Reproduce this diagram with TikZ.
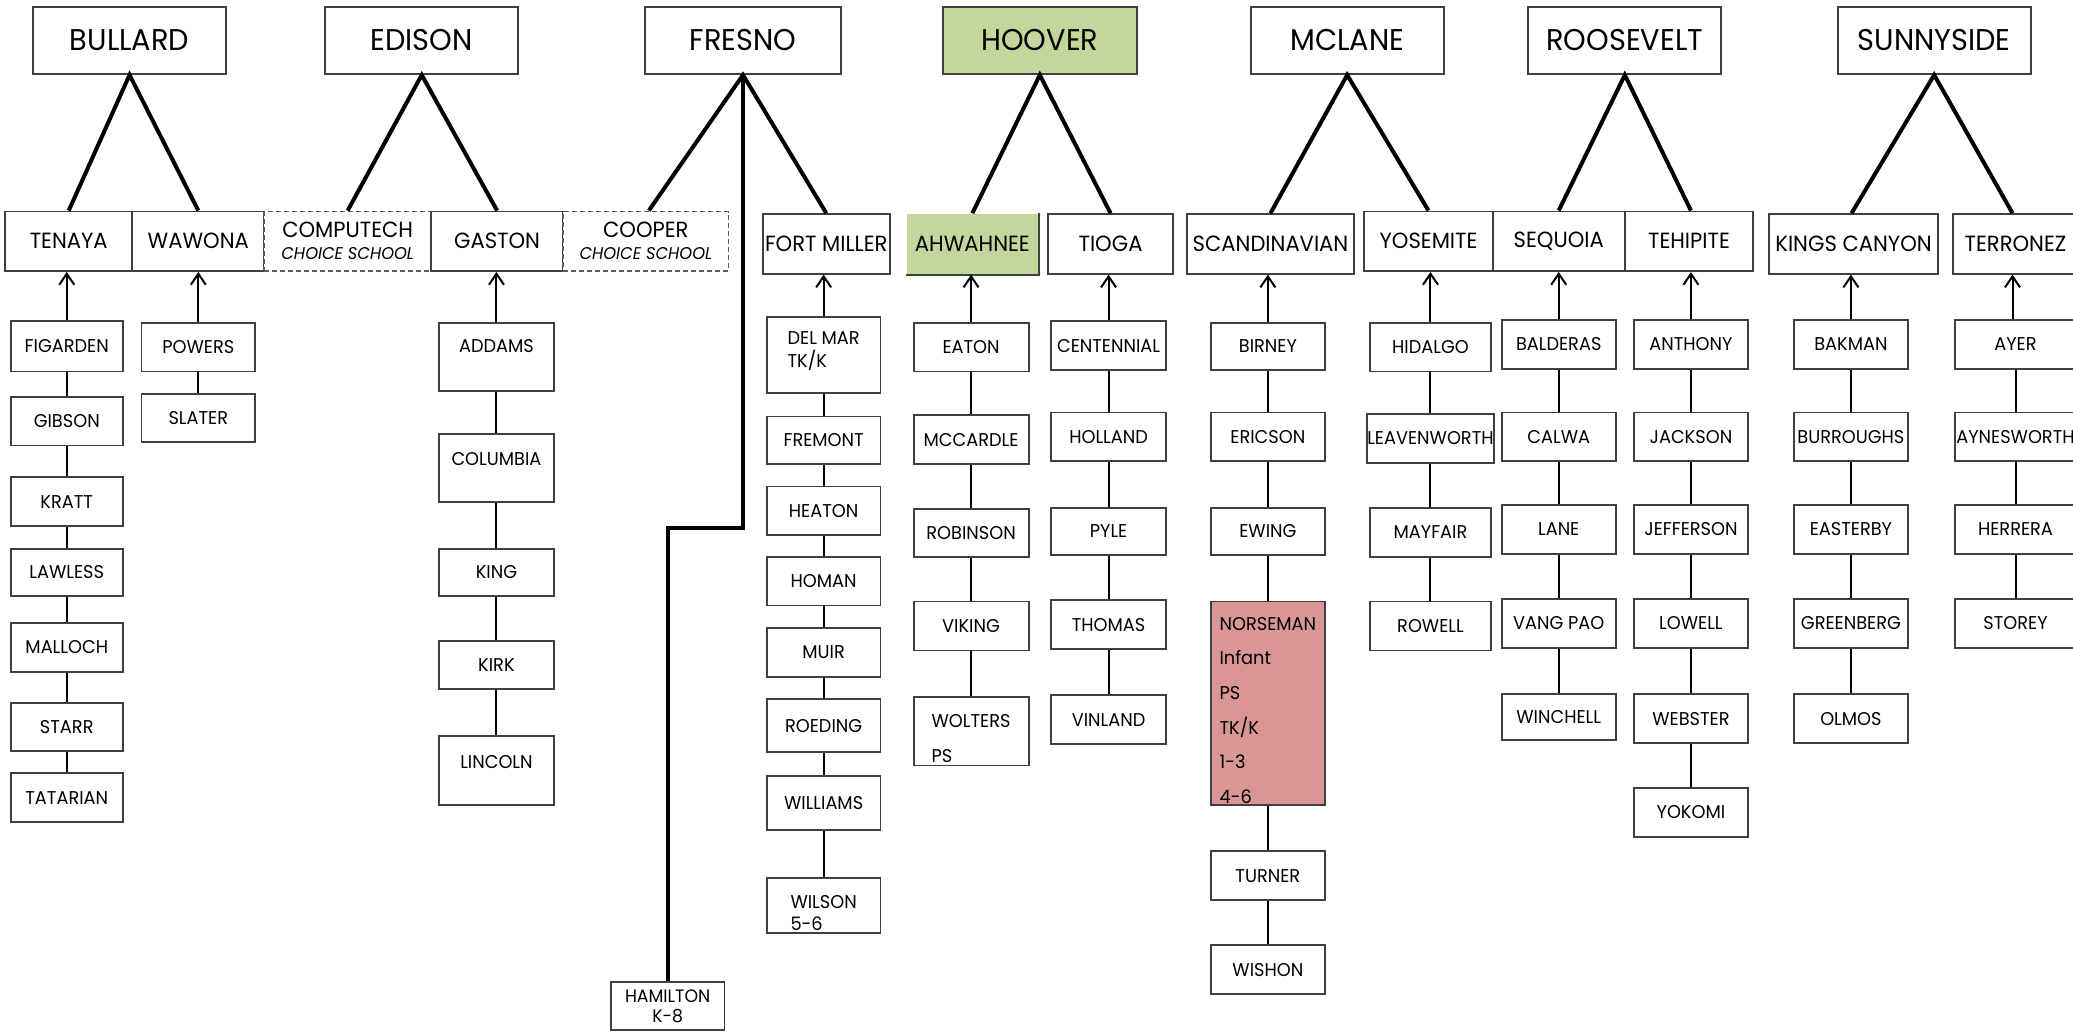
\documentclass[tikz,border=0pt]{standalone}
\usepackage{fontspec}
\setmainfont{Poppins}[FakeStretch=0.96]
\usetikzlibrary{arrows.meta}
\definecolor{bd}{HTML}{404040}
\definecolor{hgreen}{HTML}{C3D69B}
\definecolor{npink}{HTML}{D99694}
\newcommand\fsTop{\fontsize{30}{36}\selectfont}
\newcommand\fsMid{\fontsize{22}{26}\selectfont}
\newcommand\fsKid{\fontsize{18.5}{22.5}\selectfont}
\newcommand\fsSm{\fontsize{17}{19}\selectfont}
\newcommand\bx[7][]{\node[box,#1,minimum width={(#5-#3)*1.322pt},minimum height={(#6-#4)*1.322pt}] (#2) at ({(#3+#5)/2},{(#4+#6)/2}) {#7};}
\tikzset{
  box/.style={draw=bd, line width=1.9pt, fill=white, inner sep=0pt, font=\fsKid, text=black},
  top/.style={font=\fsTop},
  mid/.style={font=\fsMid},
  dbox/.style={dash pattern=on 5pt off 3pt, draw=bd!85},
  tup/.style={text depth=#1},
  trunk/.style={line width=4pt, black},
  link/.style={line width=2pt, black},
  arr/.style={line width=2pt, black, -{Straight Barb[length=11pt,width=15pt]}},
}
\begin{document}
\begin{tikzpicture}[x=1.322pt,y=-1.322pt]
\useasboundingbox (0,0) rectangle (1568,780);
\clip (0,0) rectangle (1568,780);
% top tier
\bx[top]{BULLARD}{25}{5}{171}{56}{BULLARD}
\bx[top]{EDISON}{246}{5}{392}{56}{EDISON}
\bx[top]{FRESNO}{488}{5}{636}{56}{FRESNO}
\bx[top,fill=hgreen]{HOOVER}{713}{5}{860}{56}{HOOVER}
\bx[top]{MCLANE}{946}{5}{1092}{56}{MCLANE}
\bx[top]{ROOSEVELT}{1156}{5}{1302}{56}{ROOSEVELT}
\bx[top]{SUNNYSIDE}{1390}{5}{1536}{56}{SUNNYSIDE}
% second tier
\bx[mid]{TENAYA}{4}{160}{100}{205}{TENAYA}
\bx[mid]{WAWONA}{100}{160}{200}{205}{WAWONA}
\bx[mid,dbox,align=center]{COMPUTECH}{200}{160}{326}{205}{COMPUTECH\\[-4pt]{\fsSm\itshape CHOICE SCHOOL}}
\bx[mid]{GASTON}{326}{160}{426}{205}{GASTON}
\bx[mid,dbox,align=center]{COOPER}{426}{160}{551}{205}{COOPER\\[-4pt]{\fsSm\itshape CHOICE SCHOOL}}
\bx[mid]{FORTMILLER}{577}{162}{673}{207}{FORT MILLER}
\bx[mid,fill=hgreen,draw=none]{AHWAHNEE}{686}{162}{785}{207}{AHWAHNEE}
\draw[bd,line width=1.9pt] (AHWAHNEE.north east) -- (AHWAHNEE.south east) -- (AHWAHNEE.south west);
\bx[mid]{TIOGA}{793}{162}{887}{207}{TIOGA}
\bx[mid]{SCANDINAVIAN}{898}{162}{1024}{207}{SCANDINAVIAN}
\bx[mid]{YOSEMITE}{1032}{160}{1129}{205}{YOSEMITE}
\bx[mid]{SEQUOIA}{1129}{160}{1229}{205}{SEQUOIA}
\bx[mid]{TEHIPITE}{1229}{160}{1326}{205}{TEHIPITE}
\bx[mid]{KINGSCANYON}{1338}{162}{1466}{207}{KINGS CANYON}
\bx[mid]{TERRONEZ}{1477}{162}{1572}{207}{TERRONEZ}
% Bullard children
\bx{FIGARDEN}{8}{243}{93}{281}{FIGARDEN}
\bx{GIBSON}{8}{300}{93}{337}{GIBSON}
\bx{KRATT}{8}{361}{93}{398}{KRATT}
\bx{LAWLESS}{8}{415}{93}{451}{LAWLESS}
\bx{MALLOCH}{8}{471}{93}{508}{MALLOCH}
\bx{STARR}{8}{532}{93}{568}{STARR}
\bx{TATARIAN}{8}{585}{93}{622}{TATARIAN}
\bx{POWERS}{107}{244}{193}{281}{POWERS}
\bx{SLATER}{107}{298}{193}{334}{SLATER}
% Edison children
\bx[tup=21pt]{ADDAMS}{332}{244}{419}{296}{ADDAMS}
\bx[tup=18.5pt]{COLUMBIA}{332}{328}{419}{380}{COLUMBIA}
\bx{KING}{332}{415}{419}{451}{KING}
\bx{KIRK}{332}{485}{419}{521}{KIRK}
\bx[tup=18.5pt]{LINCOLN}{332}{557}{419}{609}{LINCOLN}
% Fresno children
\bx[label={[align=left,font=\fsKid,yshift=4pt]center:{DEL MAR\\TK/K}}]{DELMAR}{580}{240}{666}{297}{}
\bx{FREMONT}{580}{315}{666}{351}{FREMONT}
\bx{HEATON}{580}{368}{666}{405}{HEATON}
\bx{HOMAN}{580}{421}{666}{458}{HOMAN}
\bx{MUIR}{580}{475}{666}{512}{MUIR}
\bx{ROEDING}{580}{529}{666}{569}{ROEDING}
\bx{WILLIAMS}{580}{587}{666}{628}{WILLIAMS}
\bx[label={[align=left,font=\fsKid,yshift=-7.3pt]center:{WILSON\\5-6}}]{WILSON}{580}{664}{666}{706}{}
\bx[align=center,font=\fontsize{18}{20}\selectfont]{HAMILTON}{462}{743}{548}{779}{HAMILTON\\K-8}
% Hoover children
\bx{EATON}{691}{244}{778}{281}{EATON}
\bx{MCCARDLE}{691}{314}{778}{351}{MCCARDLE}
\bx{ROBINSON}{691}{385}{778}{421}{ROBINSON}
\bx{VIKING}{691}{455}{778}{492}{VIKING}
\bx[label={[align=left,font=\fontsize{18.5}{35.7}\selectfont,yshift=-7.3pt]center:{WOLTERS\\PS}}]{WOLTERS}{691}{527}{778}{579}{}
\bx{CENTENNIAL}{795}{243}{882}{280}{CENTENNIAL}
\bx{HOLLAND}{795}{312}{882}{349}{HOLLAND}
\bx{PYLE}{795}{384}{882}{420}{PYLE}
\bx{THOMAS}{795}{454}{882}{491}{THOMAS}
\bx{VINLAND}{795}{526}{882}{563}{VINLAND}
% McLane children
\bx{BIRNEY}{916}{244}{1002}{280}{BIRNEY}
\bx{ERICSON}{916}{312}{1002}{349}{ERICSON}
\bx{EWING}{916}{384}{1002}{420}{EWING}
\bx[fill=npink,label={[anchor=west,align=left,font=\fontsize{18.5}{34.6}\selectfont,xshift=6pt,yshift=-7pt]west:{NORSEMAN\\Infant\\PS\\TK/K\\1-3\\4-6}}]{NORSEMAN}{916}{455}{1002}{609}{}
\bx{TURNER}{916}{644}{1002}{681}{TURNER}
\bx{WISHON}{916}{715}{1002}{752}{WISHON}
\bx{HIDALGO}{1036}{244}{1128}{281}{HIDALGO}
\bx{LEAVENWORTH}{1036}{313}{1128}{350}{LEAVENWORTH}
\bx{MAYFAIR}{1036}{384}{1128}{421}{MAYFAIR}
\bx{ROWELL}{1036}{455}{1128}{492}{ROWELL}
% Roosevelt children
\bx{BALDERAS}{1136}{242}{1222}{279}{BALDERAS}
\bx{CALWA}{1136}{312}{1222}{349}{CALWA}
\bx{LANE}{1136}{382}{1222}{419}{LANE}
\bx{VANGPAO}{1136}{453}{1222}{490}{VANG PAO}
\bx{WINCHELL}{1136}{525}{1222}{560}{WINCHELL}
\bx{ANTHONY}{1236}{242}{1322}{279}{ANTHONY}
\bx{JACKSON}{1236}{312}{1322}{349}{JACKSON}
\bx{JEFFERSON}{1236}{382}{1322}{419}{JEFFERSON}
\bx{LOWELL}{1236}{453}{1322}{490}{LOWELL}
\bx{WEBSTER}{1236}{525}{1322}{562}{WEBSTER}
\bx{YOKOMI}{1236}{596}{1322}{633}{YOKOMI}
% Sunnyside children
\bx{BAKMAN}{1357}{242}{1443}{279}{BAKMAN}
\bx{BURROUGHS}{1357}{312}{1443}{349}{BURROUGHS}
\bx{EASTERBY}{1357}{382}{1443}{419}{EASTERBY}
\bx{GREENBERG}{1357}{453}{1443}{490}{GREENBERG}
\bx{OLMOS}{1357}{525}{1443}{562}{OLMOS}
\bx{AYER}{1479}{242}{1570}{279}{AYER}
\bx{AYNESWORTH}{1479}{312}{1570}{349}{AYNESWORTH}
\bx{HERRERA}{1479}{382}{1570}{419}{HERRERA}
\bx{STOREY}{1479}{453}{1570}{490}{STOREY}
% trunk connectors
\draw[trunk] (TENAYA.north) -- (BULLARD.south) -- (WAWONA.north);
\draw[trunk] (COMPUTECH.north) -- (EDISON.south) -- (GASTON.north);
\draw[trunk] ([xshift=3pt]COOPER.north) -- (FRESNO.south) -- (FORTMILLER.north);
\draw[trunk] (FRESNO.south) -- ++(0,343) -| (HAMILTON.north);
\draw[trunk] (AHWAHNEE.north) -- (HOOVER.south) -- (TIOGA.north);
\draw[trunk] (SCANDINAVIAN.north) -- (MCLANE.south) -- (YOSEMITE.north);
\draw[trunk] (SEQUOIA.north) -- (ROOSEVELT.south) -- ([xshift=2pt]TEHIPITE.north);
\draw[trunk] ([xshift=-2pt]KINGSCANYON.north) -- (SUNNYSIDE.south) -- ([xshift=-3pt]TERRONEZ.north);
% arrows
\foreach \c/\p in {FIGARDEN/TENAYA,POWERS/WAWONA,ADDAMS/GASTON,DELMAR/FORTMILLER,EATON/AHWAHNEE,CENTENNIAL/TIOGA,BIRNEY/SCANDINAVIAN,HIDALGO/YOSEMITE,BALDERAS/SEQUOIA,ANTHONY/TEHIPITE,BAKMAN/KINGSCANYON}
  \draw[arr] (\c.north) -- (\c.north |- \p.south);
\draw[arr] ([xshift=-3pt]AYER.north) -- ([xshift=-3pt]AYER.north |- TERRONEZ.south);
% column links
\foreach \a/\b in {FIGARDEN/GIBSON,GIBSON/KRATT,KRATT/LAWLESS,LAWLESS/MALLOCH,MALLOCH/STARR,STARR/TATARIAN,POWERS/SLATER,
  ADDAMS/COLUMBIA,COLUMBIA/KING,KING/KIRK,KIRK/LINCOLN,
  DELMAR/FREMONT,FREMONT/HEATON,HEATON/HOMAN,HOMAN/MUIR,MUIR/ROEDING,ROEDING/WILLIAMS,WILLIAMS/WILSON,
  EATON/MCCARDLE,MCCARDLE/ROBINSON,ROBINSON/VIKING,VIKING/WOLTERS,
  CENTENNIAL/HOLLAND,HOLLAND/PYLE,PYLE/THOMAS,THOMAS/VINLAND,
  BIRNEY/ERICSON,ERICSON/EWING,EWING/NORSEMAN,NORSEMAN/TURNER,TURNER/WISHON,
  HIDALGO/LEAVENWORTH,LEAVENWORTH/MAYFAIR,MAYFAIR/ROWELL,
  BALDERAS/CALWA,CALWA/LANE,LANE/VANGPAO,VANGPAO/WINCHELL,
  ANTHONY/JACKSON,JACKSON/JEFFERSON,JEFFERSON/LOWELL,LOWELL/WEBSTER,WEBSTER/YOKOMI,
  BAKMAN/BURROUGHS,BURROUGHS/EASTERBY,EASTERBY/GREENBERG,GREENBERG/OLMOS,
  AYER/AYNESWORTH,AYNESWORTH/HERRERA,HERRERA/STOREY}
  \draw[link] (\a.south) -- (\a.south |- \b.north);
\end{tikzpicture}
\end{document}
